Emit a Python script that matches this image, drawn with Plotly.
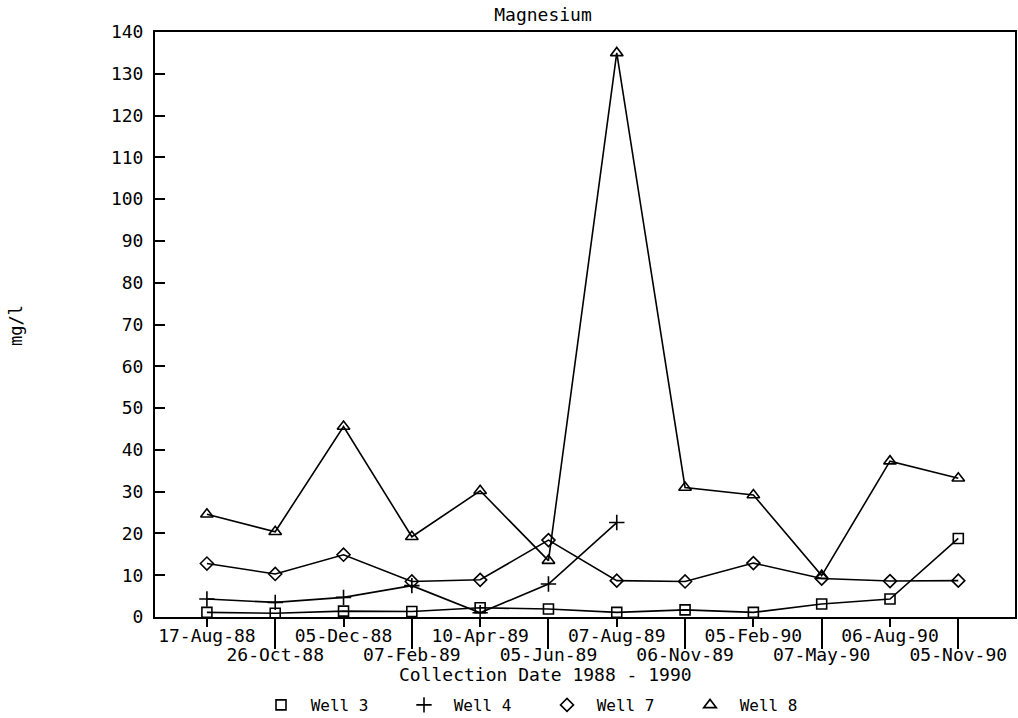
import plotly.graph_objects as go

dates = ["17-Aug-88", "26-Oct-88", "05-Dec-88", "07-Feb-89", "10-Apr-89", "05-Jun-89",
         "07-Aug-89", "06-Nov-89", "05-Feb-90", "07-May-90", "06-Aug-90", "05-Nov-90"]
well3 = [1.1, 0.9, 1.4, 1.3, 2.2, 1.9, 1.1, 1.7, 1.1, 3.1, 4.3, 18.8]
well4 = [4.3, 3.5, 4.7, 7.5, 1.0, 7.9, 22.6, None, None, None, None, None]
well7 = [12.8, 10.3, 14.9, 8.5, 8.9, 18.4, 8.7, 8.5, 12.9, 9.2, 8.6, 8.7]
well8 = [24.6, 20.4, 45.6, 19.2, 30.2, 13.5, 135.0, 31.0, 29.2, 9.9, 37.3, 33.2]
series_names = ["Well 3", "Well 4", "Well 7", "Well 8"]
y_ticks = list(range(0, 141, 10))

x_idx = list(range(len(dates)))
FONT = "DejaVu Sans Mono"

fig = go.Figure()
specs = [
    (well3, "square-open", 10),
    (well4, "cross-thin-open", 11),
    (well7, "diamond-open", 10),
    (well8, "triangle-up-open", 11),
]
for name, (vals, sym, sz) in zip(series_names, specs):
    fig.add_trace(go.Scatter(
        x=x_idx, y=vals, mode="lines+markers", name=name, showlegend=False,
        line=dict(color="black", width=1.6),
        marker=dict(symbol=sym, size=sz, color="black", line=dict(width=1.6, color="black")),
        connectgaps=False,
    ))
for name, (vals, sym, sz) in zip(series_names, specs):
    fig.add_trace(go.Scatter(
        x=[None], y=[None], mode="markers", name=" " + name, showlegend=True,
        marker=dict(symbol=sym, size=sz, color="black", line=dict(width=1.6, color="black")),
    ))

xr = [-0.76, len(dates) - 1 + 0.83]
fig.update_layout(
    width=1018, height=718,
    margin=dict(l=155, r=3, t=32, b=101, autoexpand=False),
    paper_bgcolor="white", plot_bgcolor="white",
    font=dict(family=FONT, color="black", size=16),
    title=dict(text="Magnesium", x=543 / 1018, xanchor="center", y=1 - 15 / 718, yanchor="middle",
               font=dict(family=FONT, size=18, color="black")),
    xaxis=dict(
        range=xr, tickmode="array", tickvals=x_idx[0::2], ticktext=dates[0::2],
        ticks="outside", ticklen=8, tickwidth=2, tickcolor="black",
        showline=True, linewidth=2, linecolor="black", mirror=True,
        showgrid=False, zeroline=False, automargin=False, ticklabelstandoff=-7,
        tickfont=dict(family=FONT, size=18, color="black"),
    ),
    xaxis2=dict(
        range=xr, overlaying="x", anchor="y", side="bottom",
        tickmode="array", tickvals=x_idx[1::2], ticktext=dates[1::2],
        ticks="outside", ticklen=31, tickwidth=2, tickcolor="black",
        showline=False, showgrid=False, zeroline=False, automargin=False, ticklabelstandoff=-10,
        tickfont=dict(family=FONT, size=18, color="black"),
    ),
    yaxis=dict(
        range=[0, 140], tickmode="array", tickvals=y_ticks,
        ticks="inside", ticklen=10, tickwidth=2, tickcolor="black",
        showline=True, linewidth=2, linecolor="black", mirror=True,
        showgrid=False, zeroline=False, ticklabelstandoff=6, automargin=False,
        tickfont=dict(family=FONT, size=18, color="black"),
    ),
    legend=dict(orientation="h", x=(261 - 155) / 860, xanchor="left",
                y=(617 - 705) / 585, yanchor="middle", entrywidth=98, entrywidthmode="pixels",
                font=dict(family=FONT, size=16, color="black"), bgcolor="rgba(0,0,0,0)"),
    annotations=[
        dict(text="Collection Date 1988 - 1990", xref="paper", yref="paper",
             x=(545 - 155) / 860, y=(617 - 674) / 585, xanchor="center", yanchor="middle",
             showarrow=False, font=dict(family=FONT, size=18, color="black")),
        dict(text="mg/l", xref="paper", yref="paper", x=(16 - 155) / 860, y=(617 - 326) / 585,
             xanchor="center", yanchor="middle", textangle=-90, showarrow=False,
             font=dict(family=FONT, size=17, color="black")),
    ],
)
# dummy trace so xaxis2 is drawn
fig.add_trace(go.Scatter(x=[None], y=[None], xaxis="x2", showlegend=False, hoverinfo="skip"))

fig.write_html("out.html")
